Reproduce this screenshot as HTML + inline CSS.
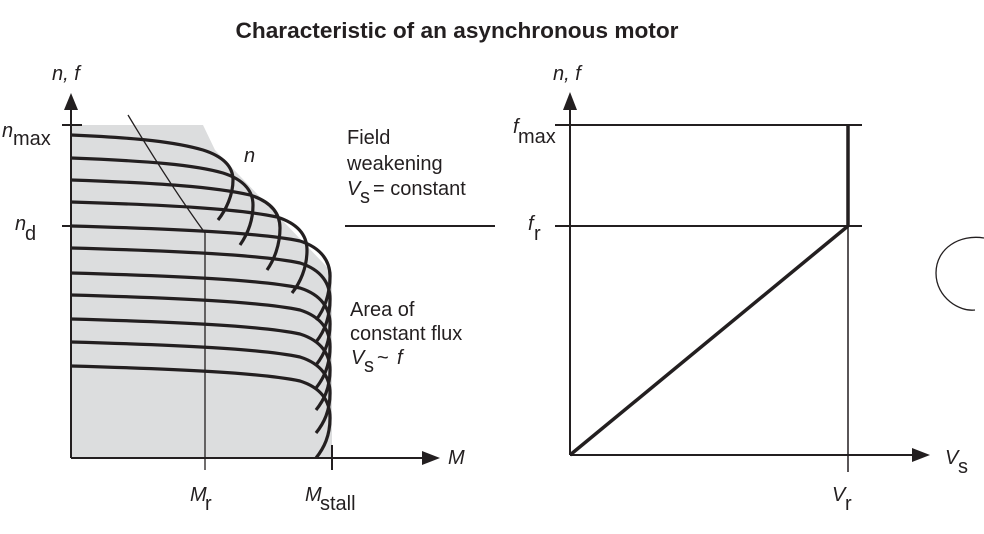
<!DOCTYPE html>
<html><head><meta charset="utf-8"><style>
body{margin:0;background:#fff}
svg{display:block}
text{font-family:"Liberation Sans",Arial,sans-serif;fill:#231f20}
.i{font-style:italic}
</style></head><body>
<svg width="984" height="534" viewBox="0 0 984 534" xmlns="http://www.w3.org/2000/svg">
<text x="457" y="38" text-anchor="middle" font-size="22" font-weight="bold" textLength="443" lengthAdjust="spacingAndGlyphs">Characteristic of an asynchronous motor</text>
<polygon points="71,125 203,125 215,150 327,267 332,272 332,458 71,458" fill="#dcddde"/>
<g stroke="#231f20" fill="none">
<line x1="71" y1="110" x2="71" y2="458" stroke-width="2"/>
<polygon points="71,93 64,110 78,110" fill="#231f20" stroke="none"/>
<line x1="71" y1="458" x2="422" y2="458" stroke-width="2"/>
<polygon points="440,458 422,451 422,465" fill="#231f20" stroke="none"/>
<line x1="62" y1="125" x2="82" y2="125" stroke-width="2"/>
<line x1="62" y1="226" x2="82" y2="226" stroke-width="2"/>
<line x1="332" y1="445" x2="332" y2="470" stroke-width="2"/>
<path d="M128,115 Q170,185 205,233 L205,470" stroke-width="1.3"/>
<line x1="345" y1="226" x2="495" y2="226" stroke-width="2"/>
<g stroke-width="3.2">
<path d="M71,135 C140,138 175,142 203,150 C225,157 233,168 233,180 C233,195 226,210 218,220"/>
<path d="M71,158 C150,161 195,165 223,173 C245,180 253,192 253,205 C253,222 247,235 240,245"/>
<path d="M71,180 C160,183 215,187 250,195 C272,202 280,214 280,228 C280,245 274,260 267,270"/>
<path d="M71,202 C170,205 240,209 277,217 C299,224 307,236 307,250 C307,268 300,283 292,293"/>
<path d="M71,226 C180,229 262,233 300,241 C322,248 330,262 330,276 C330,295 324,310 316,320"/>
<path d="M71,248 C180,251 262,255 300,263 C322,270 330,284 330,299 C330,318 324,332 316,342"/>
<path d="M71,273 C180,276 262,280 300,288 C322,295 330,309 330,324 C330,342 324,355 316,365"/>
<path d="M71,295 C180,298 262,302 300,310 C322,317 330,331 330,347 C330,365 324,378 316,388"/>
<path d="M71,319 C180,322 262,326 300,334 C322,341 330,355 330,370 C330,388 324,400 316,410"/>
<path d="M71,342 C180,345 262,349 300,357 C322,364 330,378 330,393 C330,411 324,423 316,433"/>
<path d="M71,366 C180,369 262,373 300,381 C322,388 330,402 330,418 C330,436 324,448 316,458"/>
</g>
<line x1="570" y1="110" x2="570" y2="455" stroke-width="2"/>
<line x1="570" y1="455" x2="912" y2="455" stroke-width="2"/>
<line x1="555" y1="125" x2="862" y2="125" stroke-width="2"/>
<line x1="555" y1="226" x2="862" y2="226" stroke-width="2"/>
<line x1="848" y1="125" x2="848" y2="472" stroke-width="1.5"/>
<line x1="848" y1="125" x2="848" y2="226" stroke-width="3.5"/>
<line x1="570" y1="455" x2="848" y2="226" stroke-width="3.5"/>
<path d="M984,238 C960,234 936,248 936,273 C936,298 960,312 975,310" stroke-width="1.3"/>
</g>
<polygon points="570,92 563,110 577,110" fill="#231f20"/>
<polygon points="930,455 912,448 912,462" fill="#231f20"/>
<g font-size="20">
<text x="52" y="80" class="i">n, f</text>
<text x="553" y="80" class="i">n, f</text>
<text x="2" y="137" class="i">n</text><text x="13" y="145">max</text>
<text x="15" y="230" class="i">n</text><text x="25" y="240">d</text>
<text x="244" y="162" class="i">n</text>
<text x="448" y="464" class="i">M</text>
<text x="190" y="501" class="i">M</text><text x="205" y="510">r</text>
<text x="305" y="501" class="i">M</text><text x="320" y="510">stall</text>
<text x="347" y="144">Field</text>
<text x="347" y="170">weakening</text>
<text x="347" y="195" class="i">V</text><text x="360" y="203">s</text><text x="373" y="195">= constant</text>
<text x="350" y="316">Area of</text>
<text x="350" y="340">constant flux</text>
<text x="351" y="364" class="i">V</text><text x="364" y="372">s</text><text x="377" y="364">~</text><text x="397" y="364" class="i">f</text>
<text x="513" y="133" class="i">f</text><text x="518" y="143">max</text>
<text x="528" y="230" class="i">f</text><text x="534" y="240">r</text>
<text x="945" y="464" class="i">V</text><text x="958" y="473">s</text>
<text x="832" y="501" class="i">V</text><text x="845" y="510">r</text>
</g>
</svg>
</body></html>
